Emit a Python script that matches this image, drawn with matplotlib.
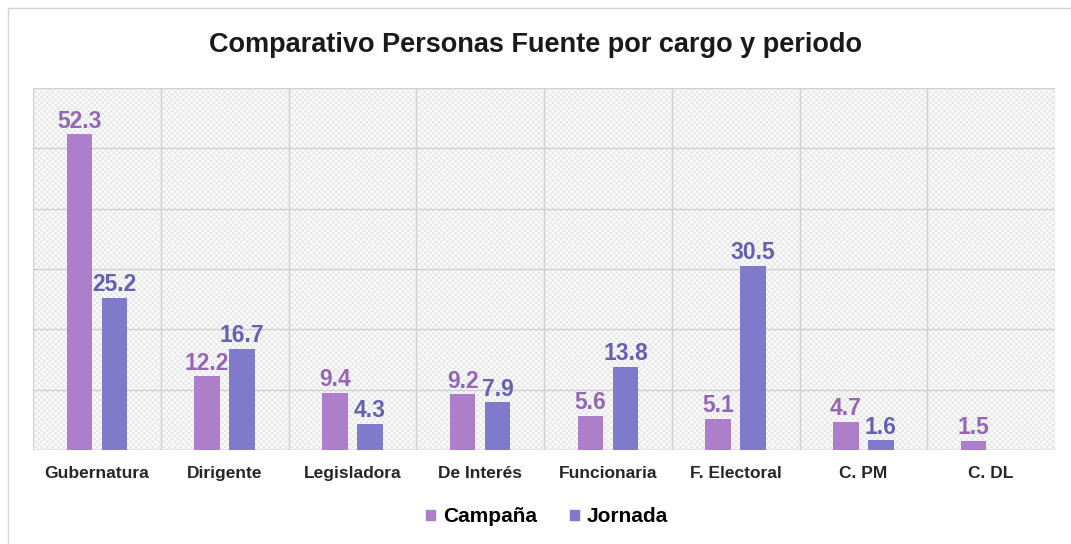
import matplotlib.pyplot as plt
import matplotlib.patches as mpatches
import numpy as np

plt.rcParams['font.family'] = ['Liberation Sans', 'DejaVu Sans']
plt.rcParams['hatch.linewidth'] = 0.4
plt.rcParams['hatch.color'] = '#d6d6d6'

categorias = ["Gubernatura", "Dirigente", "Legisladora", "De Interés", "Funcionaria",
              "F. Electoral", "C. PM", "C. DL"]
campana = [52.3, 12.2, 9.4, 9.2, 5.6, 5.1, 4.7, 1.5]
jornada = [25.2, 16.7, 4.3, 7.9, 13.8, 30.5, 1.6, None]

col_camp = '#ad7fcb'
col_jorn = '#7f7acb'
txt_camp = '#9566b8'
txt_jorn = '#6660b3'

fig = plt.figure(figsize=(10.71, 5.44), dpi=100)
fig.patches.append(mpatches.Rectangle((8/1071, -0.01), 1.2, 1.0 - 8/544 + 0.01,
                                      transform=fig.transFigure, fill=False,
                                      edgecolor='#d4d4d4', linewidth=1))
ax = fig.add_axes([33/1071, 94/544, (1055-33)/1071, (450-88)/544])

# hatched background
ax.add_patch(mpatches.Rectangle((0, 0), 1, 1, transform=ax.transAxes, facecolor='#fafafa',
                                hatch='xxxxxx', edgecolor='#dcdcdc', linewidth=0, zorder=0))

x = np.arange(len(categorias))
w = 0.2
off = 0.137
for i in range(len(categorias)):
    ax.bar(x[i] - off, campana[i], w, color=col_camp, zorder=3)
    ax.text(x[i] - off, campana[i] + 0.3, f"{campana[i]}", ha='center', va='bottom',
            color=txt_camp, fontsize=16.5, fontweight='bold', zorder=4)
    if jornada[i] is not None:
        ax.bar(x[i] + off, jornada[i], w, color=col_jorn, zorder=3)
        ax.text(x[i] + off, jornada[i] + 0.3, f"{jornada[i]}", ha='center', va='bottom',
                color=txt_jorn, fontsize=16.5, fontweight='bold', zorder=4)

ax.set_xlim(-0.5, len(categorias) - 0.5)
ax.set_ylim(0, 60)
ax.set_yticks(np.arange(0, 61, 10))
ax.set_yticklabels([])
ax.set_xticks(x)
ax.set_xticklabels(categorias, fontsize=12.5, fontweight='bold', color='#262626', va='baseline')
ax.set_xticks(np.arange(-0.5, len(categorias), 1), minor=True)
ax.tick_params(axis='both', which='both', length=0)
ax.tick_params(axis='x', pad=20)
ax.grid(axis='y', which='major', color='#d0d0d0', linewidth=1, zorder=1)
ax.grid(axis='x', which='minor', color='#d0d0d0', linewidth=1, zorder=1)
for s in ax.spines.values():
    s.set_visible(False)
ax.axhline(0, color='#cfcfcf', linewidth=1, zorder=2)

fig.text(0.5, 1 - 45/544, "Comparativo Personas Fuente por cargo y periodo", ha='center',
         va='center', fontsize=19.5, fontweight='bold', color='#1a1a1a')

handles = [mpatches.Patch(color=col_camp, label='Campaña'),
           mpatches.Patch(color=col_jorn, label='Jornada')]
leg = fig.legend(handles=handles, loc='center', bbox_to_anchor=(0.511, 1 - 517/544), ncol=2,
                 frameon=False, handlelength=0.4, handleheight=0.4, handletextpad=0.4,
                 columnspacing=1.6, prop={'size': 15, 'weight': 'bold'})

fig.savefig('out.png', dpi=100)
